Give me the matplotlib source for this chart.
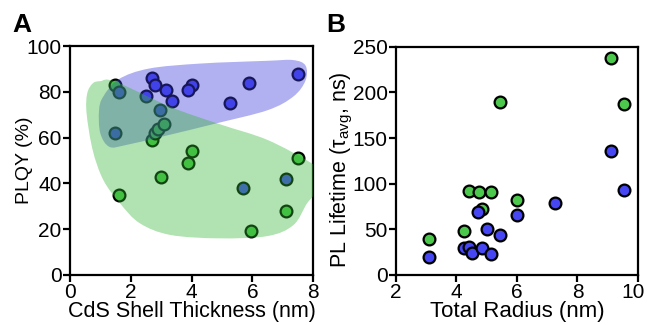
"""Two-panel scatter: PLQY vs shell thickness (A) and PL lifetime vs total radius (B)."""

import numpy as np
import matplotlib

matplotlib.use("Agg")
import matplotlib.pyplot as plt
from matplotlib.path import Path
from matplotlib.patches import PathPatch
from matplotlib.transforms import ScaledTranslation

plt.rcParams["font.family"] = ["Liberation Sans", "DejaVu Sans"]
plt.rcParams["mathtext.fontset"] = "custom"
plt.rcParams["mathtext.rm"] = "Liberation Sans"

_BLUE = "#4646f2"
_GREEN = "#4cc84c"
_BLUE_FILL = "#3c3cdc"
_GREEN_FILL = "#32b432"
_TICK_FS = 15

# Panel A: CdS shell thickness (nm) vs PLQY (%)
a_blue_x = [7.5, 5.9, 5.25, 4.0, 3.9, 3.15, 2.7, 2.8, 3.35, 1.6, 2.5, 2.95, 1.5, 5.7, 7.1]
a_blue_y = [88, 84, 75, 83, 81, 81, 86, 83, 76, 80, 78, 72, 62, 38, 42]
a_green_x = [1.5, 1.6, 2.7, 2.8, 2.9, 3.1, 3.0, 4.0, 3.9, 7.5, 7.1, 5.95]
a_green_y = [83, 35, 59, 62, 64, 66, 43, 54, 49, 51, 28, 19]

# outlines of the shaded groups in panel A (data units)
blue_zone_x = [1.6, 2.6, 4.3, 6.5, 7.35, 7.75, 7.75, 7.35, 6.5, 4.8, 3.2, 1.85, 1.3, 1.0, 0.96, 1.1]
blue_zone_y = [85.5, 90.2, 92.4, 93.6, 93.9, 91.5, 85, 78, 72, 66.2, 61, 56.8, 56, 62, 72, 78]
green_zone_x = [1.0, 1.5, 3.3, 4.9, 6.5, 7.95, 8.2, 8.2, 7.8, 7.35, 6.5, 4.9, 3.3, 2.3, 1.65, 1.1,
                0.75, 0.55, 0.57, 0.75]
green_zone_y = [84.7, 84.5, 73.5, 66, 59, 48.8, 45, 38, 31.3, 21.8, 17, 16, 17.5, 22.6, 31.3, 41.5,
                54.6, 70.6, 79.3, 83.7]

# Panel B: total radius (nm) vs PL lifetime (ns)
b_green_x = [9.1, 9.55, 5.45, 6.0, 4.4, 4.75, 5.15, 4.85, 4.25, 3.1]
b_green_y = [238, 187, 190, 82, 92, 91, 91, 72, 48, 39]
b_blue_x = [9.1, 9.55, 7.25, 6.0, 4.7, 5.0, 5.45, 4.25, 4.4, 4.5, 4.85, 5.15, 3.1]
b_blue_y = [136, 93, 79, 66, 69, 50, 44, 29, 31, 24, 29, 23, 20]


def smooth_zone(xs, ys):
    """Closed Catmull-Rom outline through the traced points, as cubic Bezier path."""
    pts = np.column_stack([xs, ys])
    n = len(pts)
    verts = [pts[0]]
    codes = [Path.MOVETO]
    for i in range(n):
        p0, p1, p2, p3 = pts[i - 1], pts[i], pts[(i + 1) % n], pts[(i + 2) % n]
        verts += [p1 + (p2 - p0) / 6.0, p2 - (p3 - p1) / 6.0, p2]
        codes += [Path.CURVE4] * 3
    return Path(verts, codes)


def style_axes(ax):
    for spine in ax.spines.values():
        spine.set_linewidth(1.6)
    ax.tick_params(direction="out", length=5, width=1.6, labelsize=_TICK_FS, pad=1)


fig = plt.figure(figsize=(6.47, 3.25), dpi=100)
ax_a = fig.add_axes([0.108, 0.154, 0.376, 0.704])
ax_b = fig.add_axes([0.612, 0.154, 0.374, 0.702])

pt = dict(s=72, edgecolors="black", linewidths=1.6, zorder=2)
ax_a.scatter(a_green_x, a_green_y, c=_GREEN, **pt)
ax_a.scatter(a_blue_x, a_blue_y, c=_BLUE, **pt)
ax_a.add_patch(PathPatch(smooth_zone(blue_zone_x, blue_zone_y), facecolor=_BLUE_FILL,
                         edgecolor="none", alpha=0.4, zorder=3))
ax_a.add_patch(PathPatch(smooth_zone(green_zone_x, green_zone_y), facecolor=_GREEN_FILL,
                         edgecolor="none", alpha=0.38, zorder=4))
ax_a.set_xlim(0, 8)
ax_a.set_ylim(0, 100)
ax_a.set_xticks([0, 2, 4, 6, 8])
ax_a.set_yticks([0, 20, 40, 60, 80, 100])
ax_a.set_xlabel("CdS Shell Thickness (nm)", fontsize=15.5, labelpad=-1)
ax_a.set_ylabel("PLQY (%)", fontsize=14)
ax_a.yaxis.set_label_coords(-0.15, 0.5)
style_axes(ax_a)

ax_b.scatter(b_green_x, b_green_y, c=_GREEN, **pt)
ax_b.scatter(b_blue_x, b_blue_y, c=_BLUE, **pt)
ax_b.set_xlim(2, 10)
ax_b.set_ylim(0, 250)
ax_b.set_xticks([2, 4, 6, 8, 10])
ax_b.set_yticks([0, 50, 100, 150, 200, 250])
ax_b.set_xlabel("Total Radius (nm)", fontsize=16, labelpad=-1)
ax_b.set_ylabel(r"PL Lifetime ($\mathregular{\tau_{avg}}$, ns)", fontsize=15.5)
ax_b.yaxis.set_label_coords(-0.17, 0.46)
style_axes(ax_b)
# last x tick label sits a little left of its tick in the original
last = ax_b.get_xticklabels()[-1]
last.set_transform(last.get_transform() + ScaledTranslation(-5 / 100, 0, fig.dpi_scale_trans))

fig.text(0.0185, 0.902, "A", fontsize=19, fontweight="bold")
fig.text(0.505, 0.902, "B", fontsize=19, fontweight="bold")

fig.savefig("out.png", dpi=100, facecolor="white")
